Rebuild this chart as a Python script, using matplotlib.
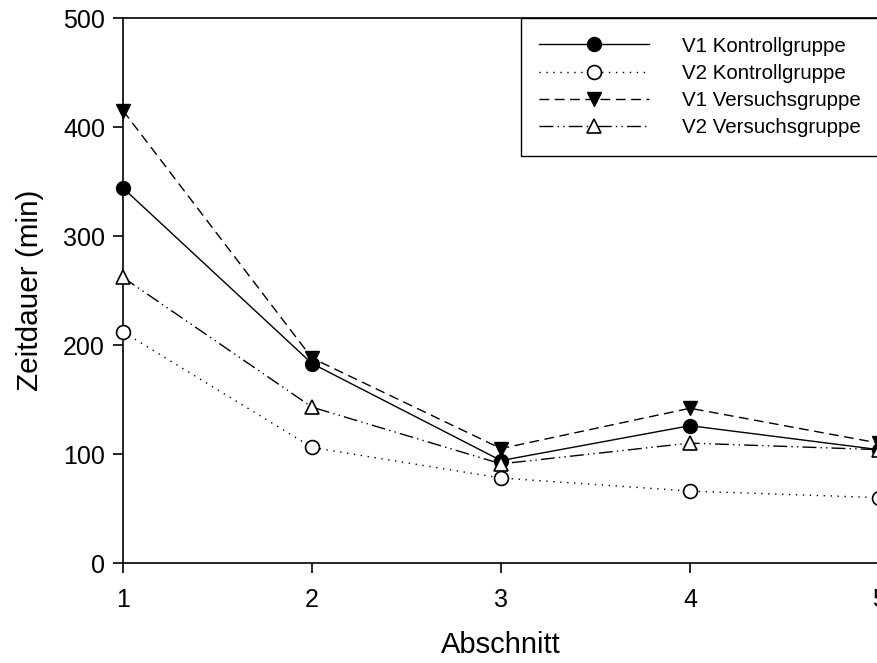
import matplotlib.pyplot as plt

plt.rcParams['font.family'] = ['Liberation Sans', 'DejaVu Sans']

# Zeitdauer je Abschnitt
abschnitt = [1, 2, 3, 4, 5]
v1_kontroll = [344, 183, 94, 126, 104]
v2_kontroll = [212, 106, 78, 66, 60]
v1_versuch = [415, 188, 105, 142, 110]
v2_versuch = [262, 143, 91, 110, 104]

fig = plt.figure(figsize=(8.77, 6.63), dpi=100)
ax = fig.add_axes([0.1403, 0.1508, 0.862, 0.822])

lw = 1.0
ms = 10
ax.plot(abschnitt, v1_kontroll, color='black', lw=lw, ls='-',
        marker='o', ms=ms, mfc='black', mec='black', clip_on=False,
        label='V1 Kontrollgruppe', zorder=3)
ax.plot(abschnitt, v2_kontroll, color='black', lw=lw, ls=(0, (1, 4)),
        marker='o', ms=ms, mfc='white', mec='black', mew=1.2, clip_on=False,
        label='V2 Kontrollgruppe', zorder=3)
ax.plot(abschnitt, v1_versuch, color='black', lw=lw, ls=(0, (7, 4)),
        marker='v', ms=ms, mfc='black', mec='black', clip_on=False,
        label='V1 Versuchsgruppe', zorder=3)
ax.plot(abschnitt, v2_versuch, color='black', lw=lw, ls=(0, (10, 3, 1, 3, 1, 3)),
        marker='^', ms=ms, mfc='white', mec='black', mew=1.2, clip_on=False,
        label='V2 Versuchsgruppe', zorder=3)

ax.set_xlim(1, 5)
ax.set_ylim(0, 500)
ax.set_xticks(abschnitt)
ax.set_yticks([0, 100, 200, 300, 400, 500])
ax.tick_params(direction='out', length=7, width=1.2, labelsize=18, color='black')
ax.tick_params(axis='x', pad=11)
ax.tick_params(axis='y', pad=6)
for s in ax.spines.values():
    s.set_linewidth(1.2)

ax.set_xlabel('Abschnitt', fontsize=21, labelpad=14)
ax.set_ylabel('Zeitdauer (min)', fontsize=21.4, labelpad=14)

leg = ax.legend(loc='upper right', bbox_to_anchor=(1, 1), borderaxespad=0,
                fontsize=14.8, handlelength=5.34, handletextpad=1.6,
                borderpad=0.9, labelspacing=0.4, fancybox=False,
                edgecolor='black', framealpha=1)
leg.get_frame().set_linewidth(1.0)

fig.savefig('out.png', dpi=100)
